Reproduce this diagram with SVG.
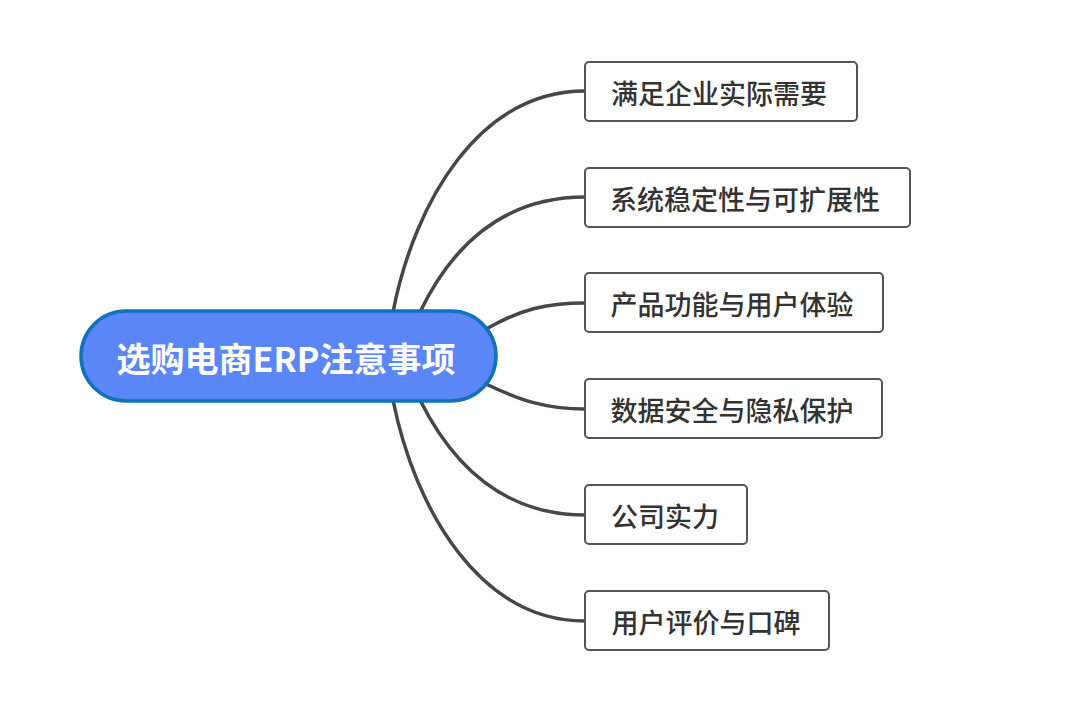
<svg xmlns="http://www.w3.org/2000/svg" width="1080" height="701" viewBox="0 0 1080 701">
<style>
.c{fill:none;stroke:#474747;stroke-width:3.5;stroke-linecap:round}
.b{fill:#fff;stroke:#555;stroke-width:2}
.t{font-family:"Noto Sans CJK SC","Noto Sans",sans-serif;font-size:27px;font-weight:500;fill:#333;text-anchor:middle;dominant-baseline:central}
.m{font-family:"Noto Sans CJK SC","Noto Sans",sans-serif;font-size:34px;font-weight:bold;fill:#fff;text-anchor:middle;dominant-baseline:central}
</style>
<rect width="1080" height="701" fill="#fff"/>
<g id="connectors">
<path class="c" d="M393,312 C415,200 480,91 585,91"/>
<path class="c" d="M420,312 C450,250 500,197 585,197"/>
<path class="c" d="M488,328 C520,310 545,303 585,303"/>
<path class="c" d="M488,385 C520,400 545,409 585,409"/>
<path class="c" d="M420,400 C450,460 500,515 585,515"/>
<path class="c" d="M393,400 C415,510 480,621 585,621"/>
</g>
<g id="root">
<rect x="81" y="311" width="415" height="90" rx="45" fill="#5B86F8" stroke="#0F72BA" stroke-width="3.5"/>
<text class="m" x="286" y="357">选购电商ERP注意事项</text>
</g>
<g id="n1"><rect class="b" x="585" y="62" width="272" height="59" rx="4"/><text class="t" x="719" y="92">满足企业实际需要</text></g>
<g id="n2"><rect class="b" x="585" y="168" width="325" height="59" rx="4"/><text class="t" x="745" y="198">系统稳定性与可扩展性</text></g>
<g id="n3"><rect class="b" x="585" y="273" width="298" height="59" rx="4"/><text class="t" x="732" y="303">产品功能与用户体验</text></g>
<g id="n4"><rect class="b" x="585" y="379" width="297" height="59" rx="4"/><text class="t" x="732" y="409">数据安全与隐私保护</text></g>
<g id="n5"><rect class="b" x="585" y="485" width="162" height="59" rx="4"/><text class="t" x="665" y="515">公司实力</text></g>
<g id="n6"><rect class="b" x="585" y="591" width="244" height="59" rx="4"/><text class="t" x="706" y="621">用户评价与口碑</text></g>
</svg>
